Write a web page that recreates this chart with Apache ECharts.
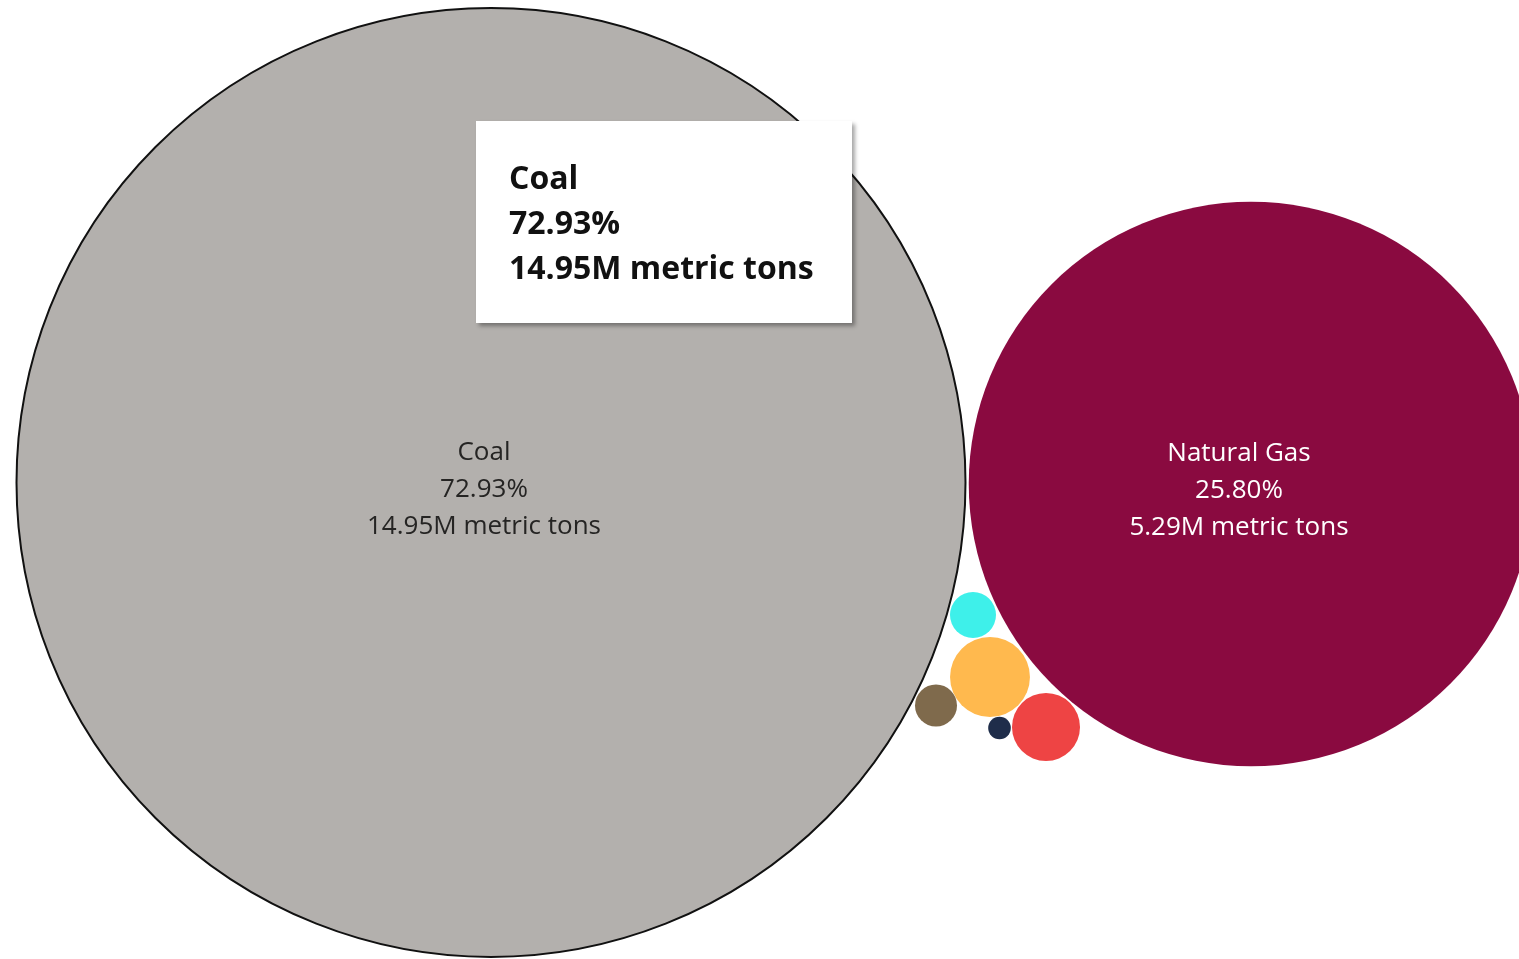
<html>
<head>
<meta charset="utf-8">
<style>
  *{box-sizing:border-box;}
  body,html{margin:0;padding:0;width:100%;height:100%;background:#fff;}
  #chart{width:1519px;height:959px;}
</style>
<script src="https://cdn.jsdelivr.net/npm/echarts@6/dist/echarts.min.js"></script>
</head>
<body>
<div id="chart"></div>
<script>
// fuel sources, emissions in million metric tons, share of total
var names    = ["Coal", "Natural Gas", "Petroleum", "Other Gases", "Other", "Wood", "Biomass"];
var valuesM  = [14.95, 5.29, 0.106, 0.0768, 0.0351, 0.0293, 0.0085];
var percents = [72.93, 25.80, 0.52, 0.37, 0.17, 0.14, 0.04];
// bubble centres (layout units, same scale as the page)
var centerX  = [491, 1251, 990, 1046, 973, 936, 999.5];
var centerY  = [482.5, 484, 677, 727, 615, 705.5, 728];
var colors   = ["#B3B0AD", "#8A0A40", "#FFB94E", "#EE4444", "#3EF0EA", "#7F6A4C", "#1F2D4A"];

var SIZE_K = 949 / Math.sqrt(14.95); // diameter per sqrt(million tons)

function fmtVal(v){
  return (v >= 1 ? v.toFixed(2) + "M" : (v * 1000).toFixed(2) + "K") + " metric tons";
}

var data = [];
for (var i = 0; i < names.length; i++){
  data.push({
    name: names[i],
    value: [centerX[i], centerY[i], valuesM[i], percents[i]],
    itemStyle: {
      color: colors[i],
      opacity: 1,
      borderColor: i === 0 ? "#111" : "transparent",
      borderWidth: i === 0 ? 2 : 0
    },
    label: {
      show: i < 2,
      color: i === 0 ? "#252423" : "#fff",
      offset: i === 0 ? [-7, 7] : [-12, 7]
    }
  });
}

var chart = echarts.init(document.getElementById("chart"));
chart.setOption({
  animation: false,
  grid: {left: 0, right: 0, top: 0, bottom: 0},
  xAxis: {type: "value", min: 0, max: 1519, show: false},
  yAxis: {type: "value", min: 0, max: 959, inverse: true, show: false},
  tooltip: {
    trigger: "item",
    triggerOn: "none",
    alwaysShowContent: true,
    transitionDuration: 0,
    position: [476, 121],
    padding: 0,
    borderWidth: 0,
    borderRadius: 0,
    backgroundColor: "#fff",
    extraCssText: "box-shadow:3px 3px 4px rgba(0,0,0,0.35);border-radius:0;",
    formatter: function(p){
      return '<div style="width:376px;height:202px;padding:33px 0 0 33px;font-family:\'Open Sans\',sans-serif;' +
        'font-size:32px;font-weight:700;line-height:45px;color:#111;">' +
        p.name + '<br>' + p.value[3].toFixed(2) + '%<br>' + fmtVal(p.value[2]) + '</div>';
    }
  },
  series: [{
    type: "scatter",
    symbol: "circle",
    symbolSize: function(v){ return SIZE_K * Math.sqrt(v[2]); },
    data: data,
    label: {
      position: "inside",
      fontFamily: "Open Sans",
      fontSize: 26,
      lineHeight: 37,
      align: "center",
      formatter: function(p){
        return p.name + "\n" + p.value[3].toFixed(2) + "%\n" + fmtVal(p.value[2]);
      }
    },
    emphasis: {disabled: true}
  }]
});
chart.dispatchAction({type: "showTip", seriesIndex: 0, dataIndex: 0});
</script>
</body>
</html>
